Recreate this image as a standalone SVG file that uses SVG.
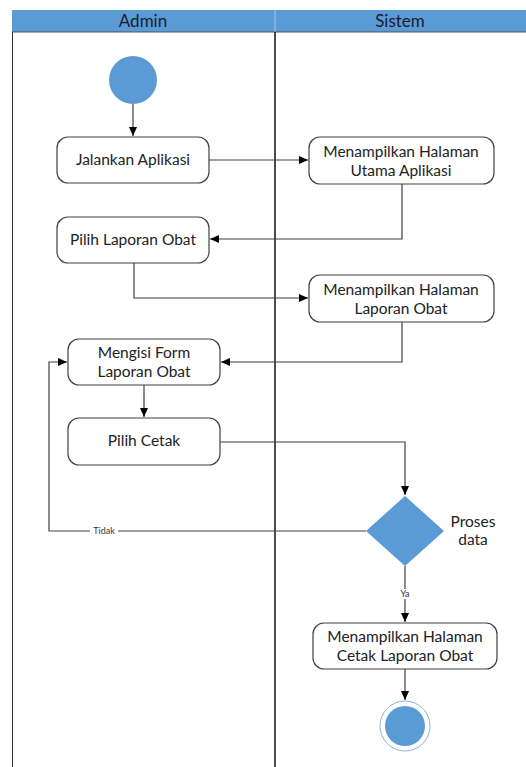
<svg xmlns="http://www.w3.org/2000/svg" width="526" height="767" viewBox="0 0 526 767">
<style>
.node rect{fill:#fff;stroke:#404040;stroke-width:1.2}
.t{font-family:Lato,"Open Sans",sans-serif;font-size:15.5px;fill:#222;text-anchor:middle}
.h{font-family:Lato,"Open Sans",sans-serif;font-size:17px;fill:#1a1a2e;text-anchor:middle}
.s{font-family:Lato,"Open Sans",sans-serif;font-size:9px;fill:#333;text-anchor:middle}
.c{fill:none;stroke:#404040;stroke-width:1.2}
</style>
<defs>
<marker id="a" markerWidth="10" markerHeight="10" refX="9" refY="5" orient="auto" markerUnits="userSpaceOnUse">
<path d="M0,1 L9,5 L0,9 Z" fill="#000"/>
</marker>
</defs>
<rect width="526" height="767" fill="#fff"/>
<g id="lanes">
<rect x="12" y="10" width="514" height="22" fill="#5b9bd5"/>
<line x1="275" y1="10" x2="275" y2="32" stroke="#a9c8e8" stroke-width="1"/>
<line x1="12" y1="32" x2="526" y2="32" stroke="#555" stroke-width="1"/>
<line x1="12.5" y1="32" x2="12.5" y2="767" stroke="#333" stroke-width="1"/>
<line x1="275" y1="32" x2="275" y2="767" stroke="#111" stroke-width="1.5"/>
<text class="h" x="143" y="27">Admin</text>
<text class="h" x="400" y="27">Sistem</text>
</g>
<g id="connectors">
<path class="c" d="M133,104 V136" marker-end="url(#a)"/>
<path class="c" d="M209,160 H308" marker-end="url(#a)"/>
<path class="c" d="M402,184 V239 H210" marker-end="url(#a)"/>
<path class="c" d="M134,263 V298 H308" marker-end="url(#a)"/>
<path class="c" d="M402,322 V362 H221" marker-end="url(#a)"/>
<path class="c" d="M144,385 V417" marker-end="url(#a)"/>
<path class="c" d="M220,442 H405 V495" marker-end="url(#a)"/>
<path class="c" d="M366,531 H49 V362 H67" marker-end="url(#a)"/>
<path class="c" d="M405,566 V622" marker-end="url(#a)"/>
<path class="c" d="M405,669 V700" marker-end="url(#a)"/>
<rect x="90" y="526" width="28" height="10" fill="#fff"/>
<text class="s" x="104" y="534">Tidak</text>
<rect x="398" y="589" width="14" height="10" fill="#fff"/>
<text class="s" x="405" y="597">Ya</text>
</g>
<g id="start"><circle cx="133" cy="80" r="24" fill="#5b9bd5"/></g>
<g id="jalankan" class="node"><rect x="57" y="137" width="152" height="46" rx="11"/><text class="t" x="133" y="165">Jalankan Aplikasi</text></g>
<g id="utama" class="node"><rect x="309" y="137" width="185" height="47" rx="11"/><text class="t" x="401" y="157">Menampilkan Halaman</text><text class="t" x="401" y="176">Utama Aplikasi</text></g>
<g id="pilihlaporan" class="node"><rect x="57" y="217" width="152" height="46" rx="11"/><text class="t" x="133" y="245">Pilih Laporan Obat</text></g>
<g id="laporan" class="node"><rect x="309" y="275" width="185" height="47" rx="11"/><text class="t" x="401" y="295">Menampilkan Halaman</text><text class="t" x="401" y="314">Laporan Obat</text></g>
<g id="mengisi" class="node"><rect x="68" y="339" width="152" height="46" rx="11"/><text class="t" x="144" y="358">Mengisi Form</text><text class="t" x="144" y="377">Laporan Obat</text></g>
<g id="cetak" class="node"><rect x="68" y="418" width="152" height="47" rx="11"/><text class="t" x="144" y="446">Pilih Cetak</text></g>
<g id="proses"><polygon points="405,496 444,531 405,566 366,531" fill="#5b9bd5"/><text class="t" x="473" y="527">Proses</text><text class="t" x="473" y="545">data</text></g>
<g id="tampilcetak" class="node"><rect x="313" y="623" width="184" height="46" rx="11"/><text class="t" x="405" y="642">Menampilkan Halaman</text><text class="t" x="405" y="661">Cetak Laporan Obat</text></g>
<g id="end"><circle cx="405" cy="726" r="25" fill="#fff" stroke="#8ab4de" stroke-width="1"/><circle cx="405" cy="726" r="20" fill="#5b9bd5"/></g>
</svg>
